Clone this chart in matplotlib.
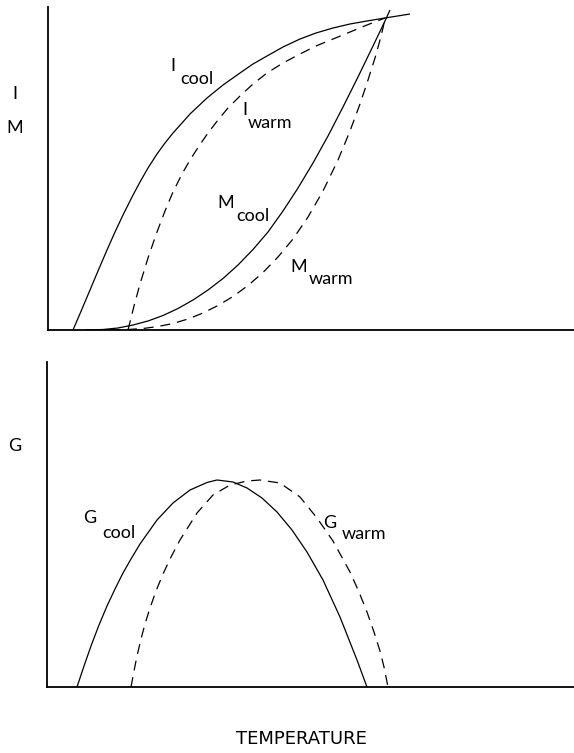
import matplotlib
matplotlib.use("Agg")
import matplotlib.pyplot as plt

plt.rcParams['font.family'] = ['Lato', 'DejaVu Sans']

# ---- data (arbitrary units: temperature, response) ----
# Top panel (I = ingestion, M = metabolism)
i_cool_t = [25, 34, 42, 50, 59, 67, 75, 84, 92, 100, 109, 117, 125, 134, 142, 159, 175,
            192, 205, 219, 235, 252, 268, 285, 302, 319, 337, 362]
i_cool_v = [0, 21, 40, 59, 80, 98, 115, 133, 148, 162, 176, 187, 197, 207, 216, 232, 245,
            257, 266, 274, 283, 291, 297, 302, 306, 309, 312, 316]

i_warm_t = [80, 86, 92, 100, 109, 117, 125, 134, 142, 151, 160, 170, 180, 192, 205, 219,
            235, 252, 268, 285, 302, 319, 337]
i_warm_v = [0, 24, 46, 72, 98, 119, 138, 156, 170, 184, 197, 210, 222, 234, 246, 257,
            267, 276, 284, 291, 298, 305, 312]

m_cool_t = [37, 55, 70, 85, 100, 115, 130, 145, 160, 175, 190, 205, 220, 235, 250, 265,
            280, 295, 310, 325, 337, 342]
m_cool_v = [0, 0.5, 2, 5, 9, 14.5, 21.5, 30, 40, 51.5, 65, 80.5, 98, 119, 142, 167,
            194, 223, 253, 284, 309, 320]

m_warm_t = [62, 80, 95, 110, 125, 140, 155, 170, 185, 200, 215, 230, 245, 260, 275, 290,
            302, 312, 320, 327, 332, 335, 337]
m_warm_v = [0, 0.5, 1.5, 3.5, 6.5, 11, 17, 24.5, 33.5, 44.5, 57.5, 73, 91, 113, 139, 170,
            199, 226, 250, 272, 290, 302, 312]

# Bottom panel (G = growth)
g_cool_t = [30, 37, 44, 52, 60, 68, 76, 84, 93, 110, 126, 143, 160, 170, 186, 200, 215,
            230, 245, 260, 276, 293, 310, 320]
g_cool_v = [0, 21, 41, 62, 81, 98, 114, 128, 143, 167, 184, 197, 204.5, 207, 205, 199,
            189, 175, 157, 135, 107, 70, 27, 0]

g_warm_t = [84, 87, 90, 94, 98, 103, 109, 116, 124, 133, 150, 166, 183, 200, 213, 233,
            253, 270, 286, 303, 312, 320, 327, 333, 337, 341]
g_warm_v = [0, 16, 31, 48, 63, 79, 96, 113, 130, 147, 174, 192, 202, 206, 207, 204,
            190, 169, 146, 115, 95, 75, 55, 36, 20, 0]

labels_main = ["I", "I", "M", "M", "G", "G"]
labels_sub = ["cool", "warm", "cool", "warm", "cool", "warm"]
axis_labels = ["I", "M", "G"]
x_title = "TEMPERATURE"

W, H = 574, 753
fig = plt.figure(figsize=(W / 100, H / 100), dpi=100)

def frac(px_left, px_top, px_right, px_bottom):
    return [px_left / W, 1 - px_bottom / H, (px_right - px_left) / W, (px_bottom - px_top) / H]

ax1 = fig.add_axes(frac(48, 7, 574, 330))
ax2 = fig.add_axes(frac(47, 362, 574, 687))

solid = dict(color='black', lw=0.9, solid_capstyle='butt', solid_joinstyle='round')
dashed = dict(color='black', lw=0.9, dashes=(8, 5.5))

ax1.plot(i_cool_t, i_cool_v, **solid)
ax1.plot(i_warm_t, i_warm_v, **dashed)
ax1.plot(m_cool_t, m_cool_v, **solid)
ax1.plot(m_warm_t, m_warm_v, **dashed)
ax1.set_xlim(0, 526)
ax1.set_ylim(0, 323)

ax2.plot(g_cool_t, g_cool_v, **solid)
ax2.plot(g_warm_t, g_warm_v, **dashed)
ax2.set_xlim(0, 527)
ax2.set_ylim(0, 325)

for ax in (ax1, ax2):
    for s in ('top', 'right'):
        ax.spines[s].set_visible(False)
    for s in ('left', 'bottom'):
        ax.spines[s].set_linewidth(1.3)
    ax.set_xticks([])
    ax.set_yticks([])
    ax.patch.set_alpha(0)

fs = 13

def curve_label(main, sub, x_main, y_main, x_sub, y_sub):
    # pixel coordinates in figure space
    fig.text(x_main / W, 1 - y_main / H, main, fontsize=fs, ha='left', va='baseline')
    fig.text(x_sub / W, 1 - y_sub / H, sub, fontsize=fs, ha='left', va='baseline')

curve_label(labels_main[0], labels_sub[0], 170, 71, 180, 84)
curve_label(labels_main[1], labels_sub[1], 242, 115, 248, 128)
curve_label(labels_main[2], labels_sub[2], 217, 208, 236, 221)
curve_label(labels_main[3], labels_sub[3], 290, 272, 309, 284)
curve_label(labels_main[4], labels_sub[4], 83, 523, 102, 538)
curve_label(labels_main[5], labels_sub[5], 323, 528, 342, 539)

# axis labels
fig.text(15 / W, 1 - 94 / H, axis_labels[0], fontsize=fs, ha='center', va='center')
fig.text(15 / W, 1 - 128 / H, axis_labels[1], fontsize=fs, ha='center', va='center')
fig.text(15 / W, 1 - 446 / H, axis_labels[2], fontsize=fs, ha='center', va='center')
fig.text(301 / W, 1 - 739 / H, x_title, fontsize=13, ha='center', va='center',
         family=['DejaVu Sans'])

fig.savefig("out.png", dpi=100)
